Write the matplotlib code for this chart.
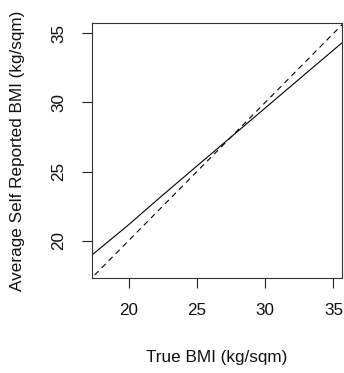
import matplotlib
matplotlib.use("Agg")
import matplotlib.pyplot as plt

# values
true_bmi = [17.3, 20.0, 22.5, 25.0, 27.5, 30.0, 32.5, 35.6]
reported_bmi = [18.95, 21.15, 23.3, 25.4, 27.5, 29.6, 31.7, 34.3]
ref_line = [17.0, 36.0]  # y = x reference line

x_ticks = [20, 25, 30, 35]
y_ticks = [20, 25, 30, 35]

plt.rcParams['font.family'] = ['Liberation Sans', 'DejaVu Sans']

fig = plt.figure(figsize=(3.44, 3.73), dpi=100)
ax = fig.add_axes([0.2666, 0.2547, 0.7267, 0.6844])

ax.plot(true_bmi, reported_bmi, color='black', lw=0.8)
ax.plot(ref_line, ref_line, color='black', lw=0.8, linestyle=(0, (5, 4)))

ax.set_xlim(17.3, 35.6)
ax.set_ylim(17.3, 35.77)
ax.set_xticks(x_ticks)
ax.set_yticks(y_ticks)
ax.tick_params(direction='out', length=7.2, width=0.8, pad=11, labelsize=12.3,
               color='#222222', labelcolor='#111111')
for lab in ax.get_yticklabels():
    lab.set_rotation(90)
    lab.set_va('center')
for s in ax.spines.values():
    s.set_linewidth(0.8)
    s.set_color('#333333')

ax.set_xlabel("True BMI (kg/sqm)", fontsize=12.3, labelpad=23, color='#111111')
ax.set_ylabel("Average Self Reported BMI (kg/sqm)", fontsize=12.3, labelpad=19,
              color='#111111')

fig.savefig("out.png", dpi=100)
